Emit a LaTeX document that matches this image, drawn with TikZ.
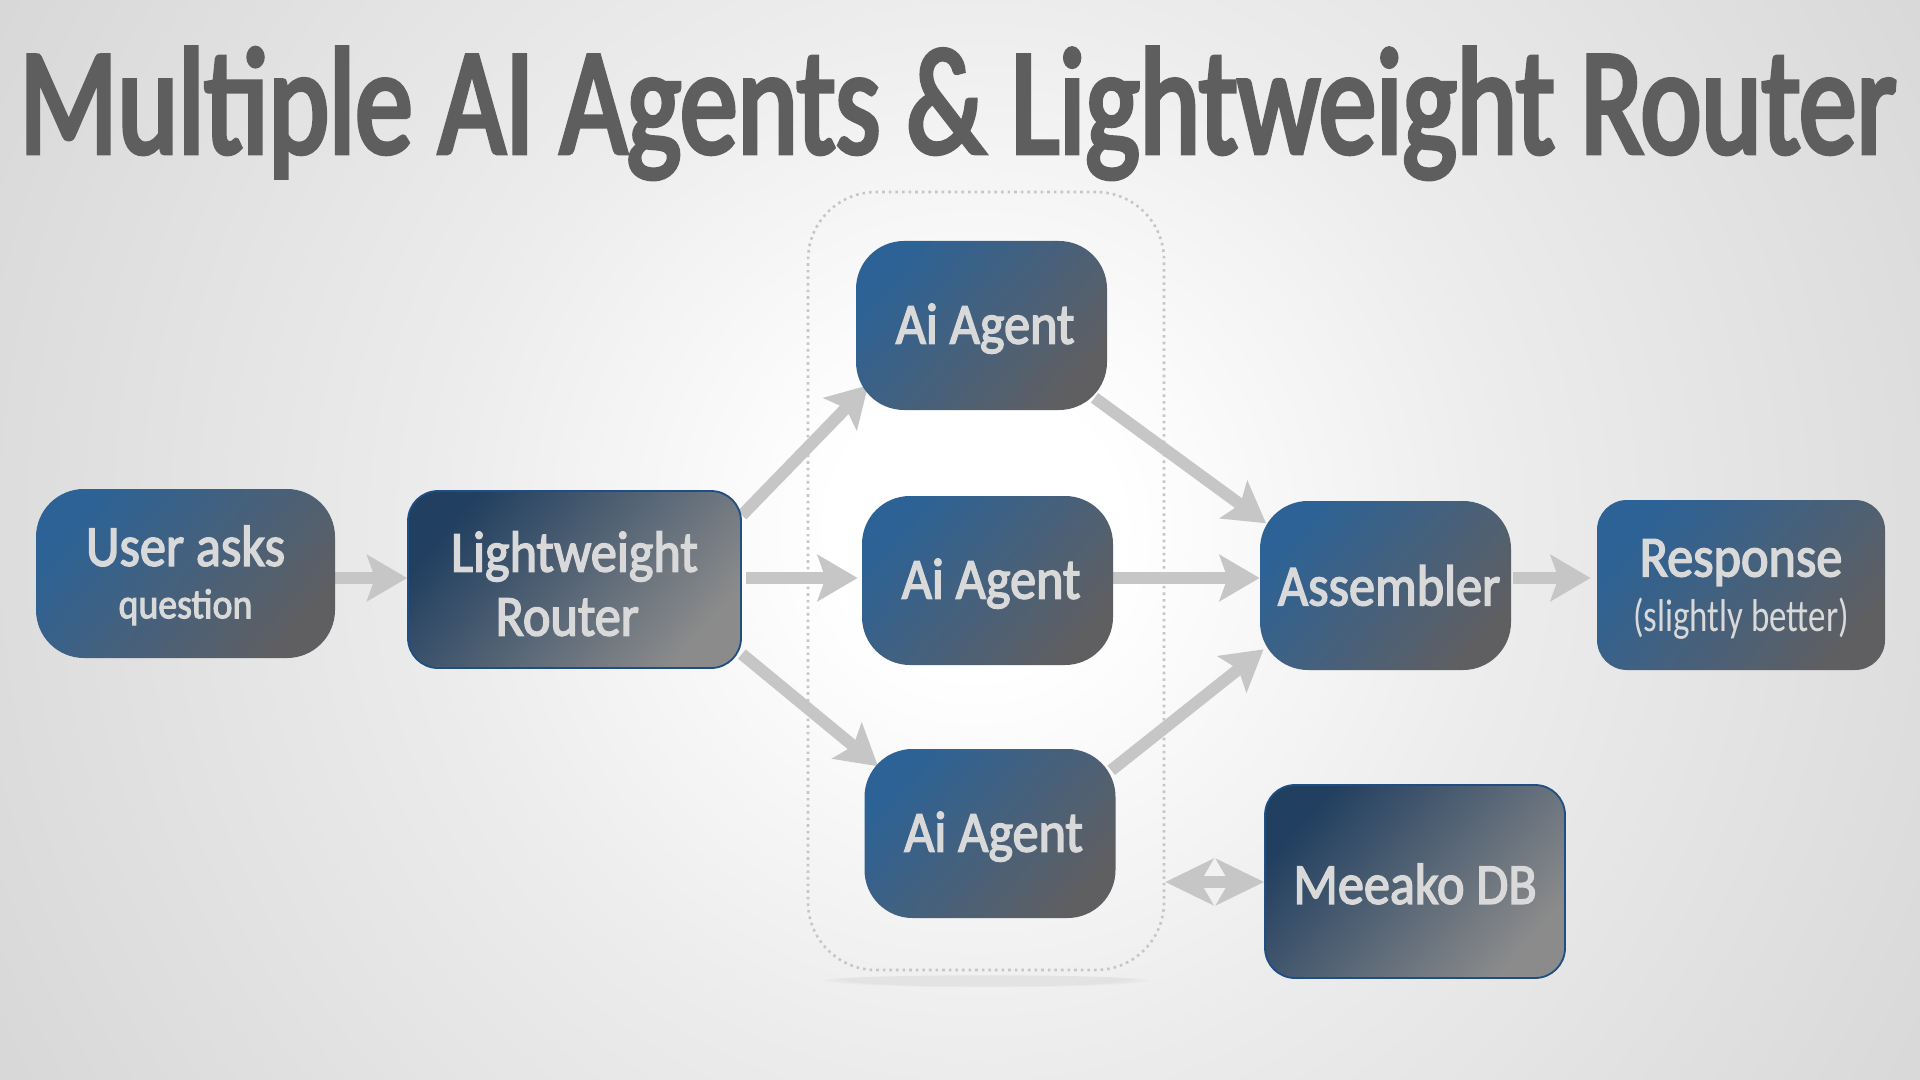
\documentclass[tikz,border=0pt]{standalone}
\usepackage{fontspec}
\usetikzlibrary{arrows.meta,backgrounds,fadings}
\newfontfamily\titlefont[FakeStretch=0.757,FakeBold=3]{Carlito}
\newfontfamily\boxfont[FakeStretch=0.9,FakeBold=2.5]{Carlito}
\newfontfamily\notefont[FakeStretch=0.76]{Carlito}
\definecolor{titlegray}{HTML}{5E5E5E}
\definecolor{boxtext}{HTML}{D9D9D9}
\definecolor{flowgray}{HTML}{C6C6C6}
\definecolor{boxblue}{HTML}{2C6296}
\definecolor{boxslate}{HTML}{5F5F62}
\definecolor{darkblue}{HTML}{213F60}
\definecolor{lightslate}{HTML}{8B8B8B}
\definecolor{edgeblue}{HTML}{1F4E85}
\pgfdeclareradialshading{slideglow}{\pgfpoint{0bp}{0bp}}{color(0bp)=(white); color(3bp)=(white); color(11.25bp)=(white!92.5!black); color(20bp)=(white!86.7!black); color(23bp)=(white!84.7!black); color(50bp)=(white!80!black)}
\newcommand{\nudged}[3]{\kern#1\raisebox{-#2}[\height][\depth]{#3}\kern-#1}
\tikzset{
    softbox/.style={rounded corners=24, shading=axis, bottom color=boxblue, top color=boxslate, shading angle=229, text=boxtext, align=center, font=\boxfont\fontsize{29}{30}\selectfont, minimum width=251*0.5pt, minimum height=169*0.5pt, inner sep=0pt},
    hardbox/.style={rounded corners=15, shading=axis, bottom color=darkblue, top color=lightslate, shading angle=229, draw=edgeblue, line width=0.9pt, text=boxtext, align=center, font=\boxfont\fontsize{29}{30}\selectfont, inner sep=0pt},
    flow/.style={draw=flowgray, line width=6pt, -{Stealth[length=20pt,width=23pt,inset=4pt]}},
    twoway/.style={draw=flowgray, line width=6pt, {Stealth[length=24pt,width=23pt,inset=6.5pt]}-{Stealth[length=24pt,width=23pt,inset=6.5pt]}},
}
\begin{document}
\begin{tikzpicture}[x=0.5pt,y=-0.5pt]
        \useasboundingbox (0,0) rectangle (1920,1080);
        \node[text=titlegray, font=\titlefont\fontsize{76}{80}\selectfont, anchor=base] (title) at (958,153) {Multiple AI Agents \& Lightweight Router};
        \node[draw=flowgray, dotted, line width=1.3pt, rounded corners=34, minimum width=356*0.5pt, minimum height=778*0.5pt] (agents) at (986,581) {};
        \node[softbox, minimum width=299*0.5pt] (user) at (185.5,573.5) {\nudged{0pt}{1.8pt}{User asks}\\[-2pt]{\fontsize{21}{22}\selectfont question}};
        \node[hardbox, minimum width=333*0.5pt, minimum height=177*0.5pt] (router) at (574.5,579.5) {\nudged{0pt}{0.6pt}{Lightweight}\\[-1pt]\nudged{-3.6pt}{3.6pt}{Router}};
        \node[softbox] (agentone) at (981.5,325.5) {\nudged{1.8pt}{1.6pt}{Ai Agent}};
        \node[softbox] (agenttwo) at (987.5,580.5) {\nudged{1.8pt}{1.6pt}{Ai Agent}};
        \node[softbox] (agentthree) at (990,833.5) {\nudged{1.8pt}{1.6pt}{Ai Agent}};
        \node[softbox] (assembler) at (1385.5,585.5) {\nudged{1.8pt}{0pt}{Assembler}};
        \node[softbox, rounded corners=15, minimum width=288*0.5pt, minimum height=170*0.5pt] (response) at (1741,585) {\nudged{0pt}{2.4pt}{Response}\\[-2pt]\nudged{0pt}{1.8pt}{\notefont\fontsize{23}{24}\selectfont (slightly better)}};
        \node[hardbox, minimum width=300*0.5pt, minimum height=193*0.5pt] (meeako) at (1415,881.5) {\nudged{0pt}{1.2pt}{Meeako DB}};
        \begin{scope}[on background layer]
            \begin{scope}
                \clip (0,0) rectangle (1920,1080);
                \shade[shading=slideglow] (975,530) circle [radius=1200];
            \end{scope}
            \fill[black, opacity=0.05, path fading=circle with fuzzy edge 20 percent] (agents.south) ++(0,10) ellipse [x radius=170, y radius=6];
            \draw[flow] (user.east |- 0,578) -- (router.west |- 0,578);
            \draw[flow, shorten <=2pt, shorten >=2pt] (router.east |- 0,578) -- (agenttwo.west |- 0,578);
            \draw[flow, shorten >=-9pt] (router.21) -- (agentone.210);
            \draw[flow, shorten >=-9pt] (router.-24) -- (agentthree.148);
            \draw[flow, shorten <=-8pt, shorten >=-4pt] (agentone.-33) -- (assembler.152);
            \draw[flow] (agenttwo.east |- 0,578) -- (assembler.west |- 0,578);
            \draw[flow, shorten <=-3pt, shorten >=-2.5pt] (agentthree.28.5) -- (assembler.208.3);
            \draw[flow, shorten <=1pt, shorten >=3pt] (assembler.east |- 0,578) -- (response.west |- 0,578);
            \draw[twoway] (agents.east |- 0,882) -- (meeako.west |- 0,882);
        \end{scope}
\end{tikzpicture}
\end{document}
